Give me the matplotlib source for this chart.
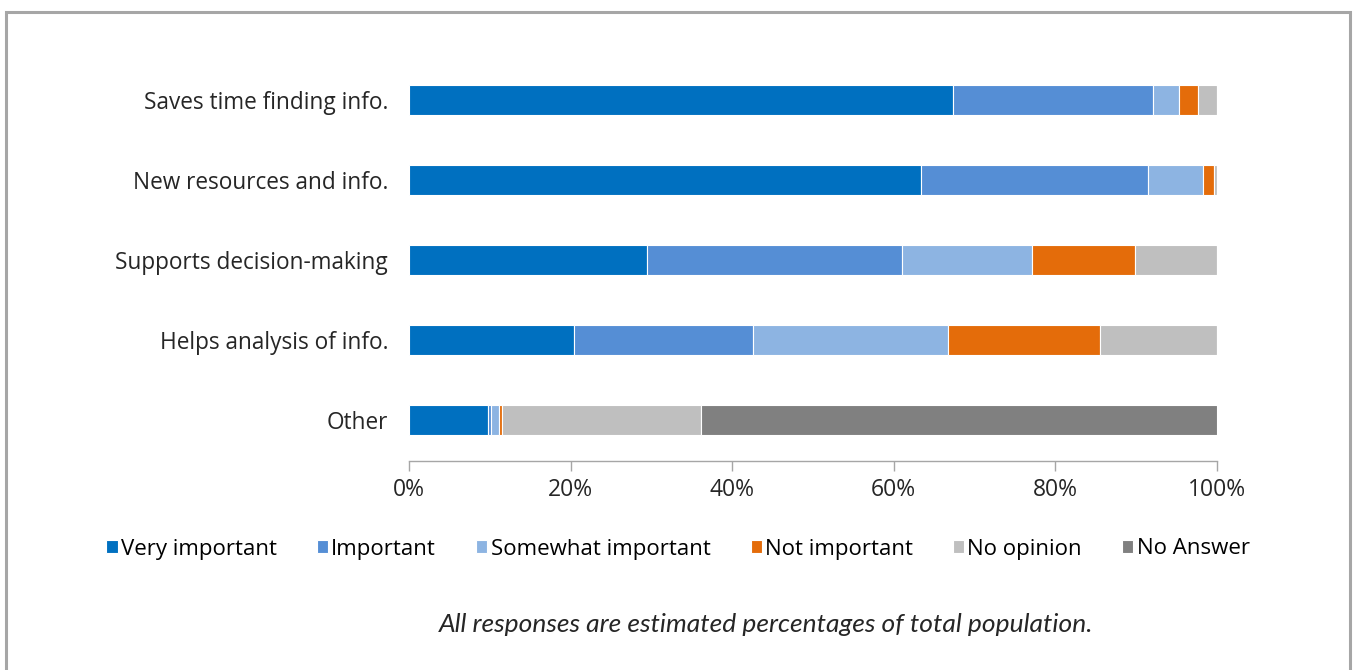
import numpy as np
import matplotlib.pyplot as plt
from matplotlib.patches import Rectangle

# categories listed bottom to top
categories = ["Other", "Helps analysis of info.", "Supports decision-making",
              "New resources and info.", "Saves time finding info."]

very_important = [9.8, 20.4, 29.5, 63.4, 67.3]
important = [0.4, 22.2, 31.5, 28.1, 24.8]
somewhat_important = [0.95, 24.1, 16.1, 6.8, 3.2]
not_important = [0.35, 18.8, 12.8, 1.3, 2.3]
no_opinion = [24.6, 14.5, 10.1, 0.4, 2.4]
no_answer = [63.9, 0.0, 0.0, 0.0, 0.0]

series = [
    ("Very important", very_important, "#0070C0"),
    ("Important", important, "#558ED5"),
    ("Somewhat important", somewhat_important, "#8DB4E2"),
    ("Not important", not_important, "#E46C0A"),
    ("No opinion", no_opinion, "#BFBFBF"),
    ("No Answer", no_answer, "#808080"),
]

W, H = 1356, 670
fig = plt.figure(figsize=(W / 100, H / 100), dpi=100)
ax = fig.add_axes([409 / W, 1 - 461 / H, (1217 - 409) / W, (461 - 60) / H])

y = np.arange(len(categories))
left = np.zeros(len(categories))
handles = []
for name, vals, color in series:
    vals = np.array(vals)
    b = ax.barh(y, vals, left=left, height=0.37, color=color,
                edgecolor="white", linewidth=0.8, label=name)
    handles.append(b)
    left += vals

ax.set_xlim(0, 100)
ax.set_ylim(-0.5125, 4.5)
ax.set_xticks(np.arange(0, 101, 20))
ax.set_xticklabels([f"{v}%" for v in range(0, 101, 20)],
                   fontsize=16.5, family="Open Sans", color="#262626")
ax.set_yticks(y)
ax.set_yticklabels(categories, fontsize=16.3, family="Open Sans", color="#262626")
for s in ["top", "right", "left"]:
    ax.spines[s].set_visible(False)
ax.spines["bottom"].set_color("#A6A6A6")
ax.spines["bottom"].set_linewidth(1.0)
ax.tick_params(axis="y", length=0, pad=15)
ax.tick_params(axis="x", length=7, color="#A6A6A6", width=1.0, pad=5)

fig.legend(handles=handles, loc="center", bbox_to_anchor=(678 / W, 1 - 549 / H),
           ncol=6, frameon=False, handlelength=0.5, handleheight=0.5,
           handletextpad=0.15, columnspacing=1.8,
           prop={"family": "Open Sans", "size": 16})

fig.text(766 / W, 1 - 624 / H,
         "All responses are estimated percentages of total population.",
         ha="center", va="center", fontsize=19, style="italic",
         family="Lato", color="#262626")

# outer frame
fig.patches.append(Rectangle((6 / W, -0.05), (1350 - 6) / W, 1.05 - 12 / H,
                             transform=fig.transFigure, fill=False,
                             edgecolor="#A6A6A6", linewidth=2.2))

fig.savefig("out.png", dpi=100)
